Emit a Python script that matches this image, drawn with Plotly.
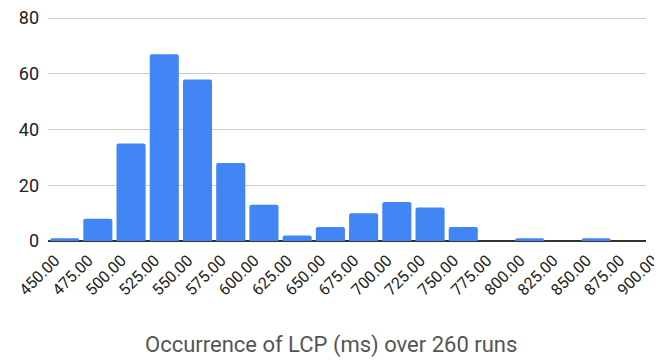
import plotly.graph_objects as go

bin_starts = [450, 475, 500, 525, 550, 575, 600, 625, 650, 675, 700, 725, 750, 775, 800, 825, 850, 875]
counts = [1, 8, 35, 67, 58, 28, 13, 2, 5, 10, 14, 12, 5, 0, 1, 0, 1, 0]
tick_values = list(range(450, 901, 25))
tick_labels = [f"{v:.2f}" for v in tick_values]
y_ticks = [0, 20, 40, 60, 80]

bin_width = 25
centers = [s + bin_width / 2 for s in bin_starts]

fig = go.Figure(go.Bar(
    x=centers, y=counts, width=[bin_width * 0.875] * len(centers),
    marker=dict(color="#4285F4", line=dict(width=0), cornerradius=2),
    hoverinfo="x+y",
))

fig.update_layout(
    width=662, height=360,
    margin=dict(l=40, r=24, t=9, b=127, autoexpand=False),
    paper_bgcolor="white", plot_bgcolor="white",
    font=dict(family="Roboto, Arial, sans-serif", size=14, color="#222222"),
    showlegend=False,
    annotations=[dict(
        text="Occurrence of LCP (ms) over 260 runs",
        xref="paper", yref="paper", x=0.474, y=-0.465, xanchor="center", yanchor="middle",
        showarrow=False, font=dict(size=22, color="#555555"),
    )],
)
fig.update_xaxes(
    range=[450, 900], tickmode="array", tickvals=tick_values, ticktext=tick_labels,
    tickangle=-45, showgrid=False, showline=False, zeroline=False, ticks="",
    tickfont=dict(size=16, color="#222222"), automargin=False,
    ticklabeloverflow="allow", ticklabelshift=7, ticklabelstandoff=6,
)
fig.update_yaxes(
    range=[0, 80.4], tickmode="array", tickvals=y_ticks, showgrid=True, gridcolor="#cccccc",
    gridwidth=1, zeroline=True, zerolinecolor="#333333", zerolinewidth=1.5, ticks="",
    ticklabelstandoff=8, tickfont=dict(size=18, color="#222222"), automargin=False,
    ticklabeloverflow="allow",
)

fig.write_html("out.html")
